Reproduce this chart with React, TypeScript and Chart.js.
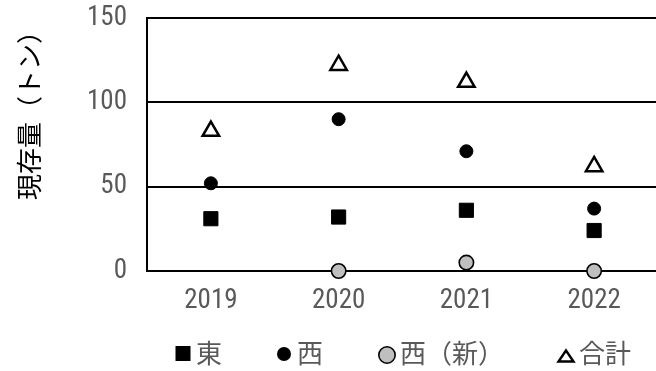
import React, { useEffect, useRef } from 'react';
import { Chart, registerables } from 'chart.js';

Chart.register(...registerables);

const categories = ['2019', '2020', '2021', '2022'];
const seriesNames = ['東', '西', '西（新）', '合計'];
const eastValues = [31, 32, 36, 24];
const westValues = [52, 90, 71, 37];
const westNewValues: (number | null)[] = [null, 0, 5, 0];
const totalValues = [83, 122, 112, 62];
const yTitle = '現存量（トン）';
const yMin = 0;
const yMax = 150;
const yStep = 50;

const NARROW = '"Roboto Condensed", Roboto, "Liberation Sans", sans-serif';
const CJK = '"Noto Sans CJK JP", "Noto Sans", sans-serif';
const TICK_COLOR = '#595959';
const tickFont = { family: NARROW, size: 27, weight: 'condensed' as any, lineHeight: 1.2 };

const legendX = [183, 284, 387, 566];

function drawLegendMarker(ctx: CanvasRenderingContext2D, i: number, cx: number, cy: number) {
  ctx.save();
  ctx.strokeStyle = '#000';
  if (i === 0) {
    ctx.fillStyle = '#000';
    ctx.fillRect(cx - 7.5, cy - 7, 15, 15);
  } else if (i === 1) {
    ctx.fillStyle = '#000';
    ctx.beginPath();
    ctx.arc(cx, cy + 1, 7, 0, Math.PI * 2);
    ctx.fill();
  } else if (i === 2) {
    ctx.fillStyle = '#bfbfbf';
    ctx.lineWidth = 1.6;
    ctx.beginPath();
    ctx.arc(cx, cy + 2, 8.2, 0, Math.PI * 2);
    ctx.fill();
    ctx.stroke();
  } else {
    ctx.fillStyle = '#fff';
    ctx.lineWidth = 2.4;
    ctx.lineJoin = 'miter';
    ctx.beginPath();
    ctx.moveTo(cx, cy + 3 - 5.5);
    ctx.lineTo(cx + 7.5, cy + 3 + 5.5);
    ctx.lineTo(cx - 7.5, cy + 3 + 5.5);
    ctx.closePath();
    ctx.fill();
    ctx.stroke();
  }
  ctx.restore();
}

const customLegend = {
  id: 'customLegend',
  afterDraw(chart: any) {
    const ctx: CanvasRenderingContext2D = chart.ctx;
    const y = 353;
    chart.data.datasets.forEach((ds: any, i: number) => {
      const cx = legendX[i];
      drawLegendMarker(ctx, i, cx, y);
      ctx.save();
      ctx.fillStyle = TICK_COLOR;
      ctx.font = `26px ${CJK}`;
      ctx.textBaseline = 'middle';
      ctx.textAlign = 'left';
      ctx.fillText(ds.label, cx + 13, y);
      ctx.restore();
    });
  },
};

export default function App() {
  const canvasRef = useRef<HTMLCanvasElement | null>(null);

  useEffect(() => {
    if (!canvasRef.current) return;
    const chart = new Chart(canvasRef.current, {
      type: 'line',
      data: {
        labels: categories,
        datasets: [
          {
            label: seriesNames[0],
            data: eastValues,
            showLine: false,
            pointStyle: 'rect',
            pointRadius: 10,
            pointBackgroundColor: '#000',
            pointBorderColor: '#000',
            pointBorderWidth: 1,
            clip: false,
          },
          {
            label: seriesNames[1],
            data: westValues,
            showLine: false,
            pointStyle: 'circle',
            pointRadius: 6.5,
            pointBackgroundColor: '#000',
            pointBorderColor: '#000',
            pointBorderWidth: 1,
            clip: false,
          },
          {
            label: seriesNames[2],
            data: westNewValues,
            showLine: false,
            pointStyle: 'circle',
            pointRadius: 7.2,
            pointBackgroundColor: '#bfbfbf',
            pointBorderColor: '#000',
            pointBorderWidth: 1.6,
            clip: false,
          },
          {
            label: seriesNames[3],
            data: totalValues,
            showLine: false,
            pointStyle: 'triangle',
            pointRadius: 9.5,
            pointBackgroundColor: '#fff',
            pointBorderColor: '#000',
            pointBorderWidth: 2.5,
            clip: false,
          },
        ],
      },
      options: {
        responsive: false,
        animation: false,
        events: [],
        layout: { padding: { top: 18, right: 22, left: 0, bottom: 0 } },
        plugins: {
          legend: { display: false },
          tooltip: { enabled: false },
        },
        scales: {
          x: {
            type: 'category',
            offset: true,
            grid: { display: false, drawTicks: false },
            border: { display: true, color: '#000', width: 2 },
            ticks: {
              color: TICK_COLOR,
              font: tickFont,
              padding: 14,
              maxRotation: 0,
              autoSkip: false,
            },
            afterFit: (scale: any) => {
              scale.height = 100;
              scale.paddingLeft = 0;
              scale.paddingRight = 0;
            },
          },
          y: {
            min: yMin,
            max: yMax,
            ticks: {
              stepSize: yStep,
              color: TICK_COLOR,
              font: tickFont,
              padding: 20,
            },
            grid: { color: '#000', lineWidth: 2, drawTicks: false },
            border: { display: true, color: '#000', width: 2 },
            title: {
              display: true,
              text: yTitle,
              align: 'end',
              color: '#000',
              font: { family: CJK, size: 26 },
              padding: { top: 14, bottom: 0 },
            },
            afterFit: (scale: any) => {
              scale.width = 147;
              scale.paddingTop = 0;
              scale.paddingBottom = 0;
            },
          },
        },
      },
      plugins: [customLegend],
    } as any);
    return () => chart.destroy();
  }, []);

  return (
    <div style={{ position: 'fixed', left: 0, top: 0, width: 656, height: 371, overflow: 'hidden', background: '#fff' }}>
      <canvas ref={canvasRef} width={680} height={371} style={{ display: 'block' }} />
    </div>
  );
}
